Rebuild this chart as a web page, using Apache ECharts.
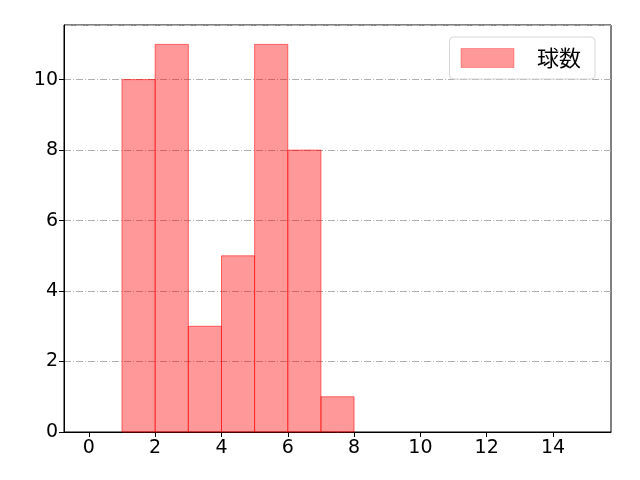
<!DOCTYPE html>
<html>
<head>
<meta charset="utf-8">
<script src="https://cdn.jsdelivr.net/npm/echarts@6/dist/echarts.min.js"></script>
<style>
  html, body { margin: 0; padding: 0; background: #fff; }
  #chart { width: 640px; height: 480px; }
</style>
</head>
<body>
<div id="chart"></div>
<script>
// histogram bins (left edges) and counts
var binStarts = [0, 1, 2, 3, 4, 5, 6, 7, 8, 9, 10, 11, 12, 13, 14];
var counts    = [0, 10, 11, 3, 5, 11, 8, 1, 0, 0, 0, 0, 0, 0, 0];
var xTicks = [0, 2, 4, 6, 8, 10, 12, 14];
var seriesName = '球数';

var font = '"Noto Sans CJK JP", "DejaVu Sans", sans-serif';
var numFont = '"DejaVu Sans", sans-serif';

var chart = echarts.init(document.getElementById('chart'));

var binData = binStarts.map(function (b, i) { return [b, b + 1, counts[i]]; });

var option = {
  animation: false,
  grid: {
    left: 64, right: 29, top: 25, bottom: 48,
    show: true, borderColor: '#000', borderWidth: 1
  },
  legend: {
    right: 45, top: 37,
    itemWidth: 53, itemHeight: 19, itemGap: 10,
    padding: [10, 14, 10, 11],
    borderColor: '#d6d6d6', borderWidth: 1, borderRadius: 4,
    backgroundColor: 'rgba(255,255,255,0.8)',
    itemStyle: { color: 'rgba(255,0,0,0.4)', borderColor: 'rgba(255,0,0,0.3)', borderWidth: 1 },
    textStyle: { fontFamily: font, fontSize: 22, color: '#000', padding: [0, 0, 0, 18] },
    data: [{ name: seriesName, icon: 'rect' }]
  },
  xAxis: {
    type: 'value', min: -0.75, max: 15.75,
    axisLine: { onZero: false, lineStyle: { color: '#000', width: 1 } },
    axisTick: { show: true, length: 5, customValues: xTicks, lineStyle: { color: '#000' } },
    axisLabel: { customValues: xTicks, color: '#000', fontFamily: numFont, fontSize: 19, margin: 7 },
    splitLine: { show: false }
  },
  yAxis: {
    type: 'value', min: 0, max: 11.55, interval: 2,
    axisLine: { show: true, onZero: false, lineStyle: { color: '#000', width: 1 } },
    axisTick: { show: true, length: 5, lineStyle: { color: '#000' } },
    axisLabel: { color: '#000', fontFamily: numFont, fontSize: 19, margin: 6, showMaxLabel: false },
    splitLine: { show: true, lineStyle: { color: '#b0b0b0', width: 1, type: [7, 2, 1, 2] } }
  },
  series: [{
    name: seriesName,
    type: 'custom',
    itemStyle: { color: 'rgba(255,0,0,0.4)', borderColor: 'rgba(255,0,0,0.3)', borderWidth: 1 },
    encode: { x: [0, 1], y: 2 },
    data: binData,
    renderItem: function (params, api) {
      var h = api.value(2);
      if (!h) return null;
      var p0 = api.coord([api.value(0), 0]);
      var p1 = api.coord([api.value(1), h]);
      return {
        type: 'rect',
        shape: { x: p0[0], y: p1[1], width: p1[0] - p0[0], height: p0[1] - p1[1] },
        style: { fill: 'rgba(255,0,0,0.4)', stroke: 'rgba(255,0,0,0.55)', lineWidth: 1 }
      };
    }
  }]
};

chart.setOption(option);
</script>
</body>
</html>
